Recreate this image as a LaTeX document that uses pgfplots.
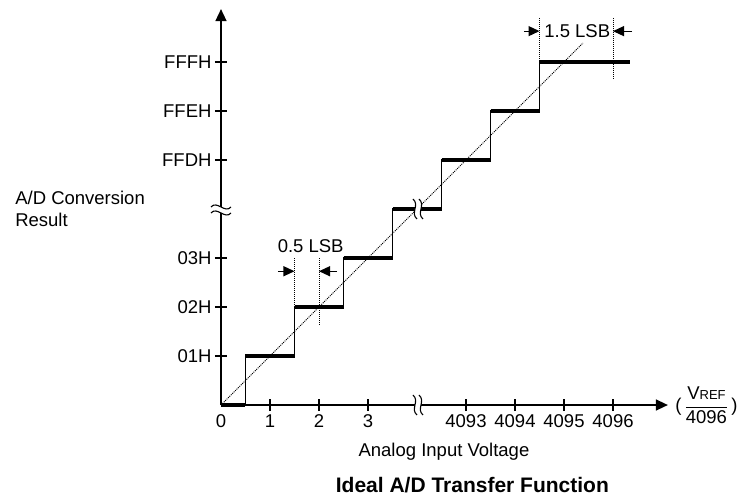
\documentclass[border=0pt]{standalone}
\usepackage{fontspec}
\setmainfont{Liberation Sans}
\usepackage{pgfplots}
\pgfplotsset{compat=1.18}
\usetikzlibrary{arrows.meta}

\begin{document}
\begin{tikzpicture}[font=\fontsize{18.5}{22}\selectfont]
    \useasboundingbox (0,0) rectangle (737pt,-496pt);
    \begin{axis}[
            at={(221pt,-405pt)}, anchor=south west,
            x=49pt, y=49pt,
            xmin=0, xmax=9.12,
            ymin=0, ymax=8.08,
            axis lines=left,
            axis line style={line width=1.5pt, -{Triangle[length=12pt,width=11pt]}},
            clip=false,
            xtick={1,2,3,5,6,7,8},
            xticklabels={1,2,3,4093,4094,4095,4096},
            extra x ticks={0}, extra x tick labels={0},
            extra x tick style={tick style={draw=none}},
            ytick={1,2,3,5,6,7},
            yticklabels={01H,02H,03H,FFDH,FFEH,FFFH},
            tick align=center, major tick length=12pt,
            tick style={line width=1.2pt, black},
            ticklabel style={font=\fontsize{18.5}{22}\selectfont},
        ]
        % staircase, thin risers
        \addplot[line width=1.5pt] coordinates {
            (0,0) (0.5,0) (0.5,1) (1.5,1) (1.5,2) (2.5,2) (2.5,3) (3.5,3)
            (3.5,4) (4.5,4) (4.5,5) (5.5,5) (5.5,6) (6.5,6) (6.5,7) (8.35,7)};
        % thick treads
        \addplot[line width=4pt, unbounded coords=jump] coordinates {
            (0,0) (0.5,0) (nan,nan)
            (0.5,1) (1.5,1) (nan,nan)
            (1.5,2) (2.5,2) (nan,nan)
            (2.5,3) (3.5,3) (nan,nan)
            (3.5,4) (4.5,4) (nan,nan)
            (4.5,5) (5.5,5) (nan,nan)
            (5.5,6) (6.5,6) (nan,nan)
            (6.5,7) (8.35,7)};
        % ideal line
        \addplot[line width=1pt, densely dotted] coordinates {(0,0) (7.39,7.39)};

        % 0.5 LSB marker
        \draw[line width=1pt, densely dotted] (axis cs:1.5,3) -- (axis cs:1.5,2);
        \draw[line width=1pt, densely dotted] (axis cs:2,3) -- (axis cs:2,1.65);
        \draw[line width=1.2pt, -{Triangle[length=11pt,width=10pt]}] (axis cs:1.16,2.73) -- (axis cs:1.5,2.73);
        \draw[line width=1.2pt, -{Triangle[length=11pt,width=10pt]}] (axis cs:2.37,2.73) -- (axis cs:2,2.73);
        \node at (axis cs:1.83,3.24) {0.5 LSB};

        % 1.5 LSB marker
        \draw[line width=1pt, densely dotted] (axis cs:6.5,7.9) -- (axis cs:6.5,7);
        \draw[line width=1pt, densely dotted] (axis cs:8,7.9) -- (axis cs:8,6.67);
        \draw[line width=1.2pt, -{Triangle[length=11pt,width=10pt]}] (axis cs:6.18,7.63) -- (axis cs:6.5,7.63);
        \draw[line width=1.2pt, -{Triangle[length=11pt,width=10pt]}] (axis cs:8.39,7.63) -- (axis cs:8,7.63);
        \node at (axis cs:7.27,7.63) {1.5 LSB};

        % texts
        \node[anchor=west, align=left] at (axis cs:-4.27,4) {A/D Conversion\\Result};
        \node at (axis cs:4.55,-0.96) {Analog Input Voltage};
        \node[font=\fontsize{21}{25}\bfseries] at (axis cs:5.13,-1.63) {Ideal A/D Transfer Function};
        \node[anchor=west, inner sep=0pt] at (axis cs:9.27,0)
            {(\,$\displaystyle\frac{\mbox{V\fontsize{13}{15}\selectfont REF}}{\mbox{4096}}$\,)};

        \coordinate (bstep) at (axis cs:4.02,4);
        \coordinate (bx) at (axis cs:4.02,0);
        \coordinate (by) at (axis cs:0,3.98);
    \end{axis}

    % break marks
    \foreach \p in {bstep,bx} {
        \begin{scope}[shift={(\p)}]
            \fill[white] (-5pt,10pt) .. controls (2pt,4pt) and (-8pt,-4pt) .. (-1pt,-10pt)
                -- (5pt,-10pt) .. controls (-2pt,-4pt) and (8pt,4pt) .. (1pt,10pt) -- cycle;
            \draw[line width=1.1pt] (-5pt,10pt) .. controls (2pt,4pt) and (-8pt,-4pt) .. (-1pt,-10pt);
            \draw[line width=1.1pt] (1pt,10pt) .. controls (8pt,4pt) and (-2pt,-4pt) .. (5pt,-10pt);
        \end{scope}
    }
    \begin{scope}[shift={(by)}]
        \fill[white] (-10pt,3pt) .. controls (-4pt,10pt) and (4pt,-4pt) .. (10pt,3pt)
            -- (10pt,-3pt) .. controls (4pt,-10pt) and (-4pt,4pt) .. (-10pt,-3pt) -- cycle;
        \draw[line width=1.1pt] (-10pt,3pt) .. controls (-4pt,10pt) and (4pt,-4pt) .. (10pt,3pt);
        \draw[line width=1.1pt] (-10pt,-3pt) .. controls (-4pt,4pt) and (4pt,-10pt) .. (10pt,-3pt);
    \end{scope}
\end{tikzpicture}
\end{document}
